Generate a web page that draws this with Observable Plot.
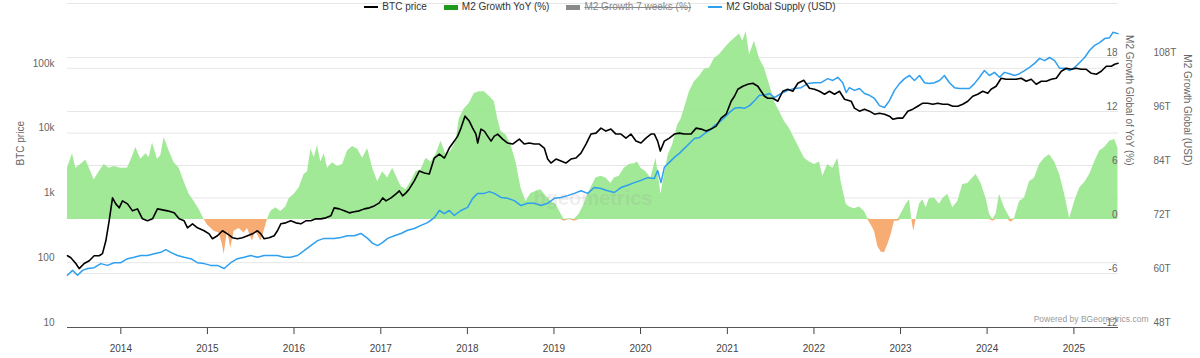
<!DOCTYPE html>
<html>
<head>
<meta charset="utf-8">
<script src="https://cdn.jsdelivr.net/npm/d3@7"></script>
<script src="https://cdn.jsdelivr.net/npm/@observablehq/plot@0.6"></script>
<style>
  html, body { margin: 0; padding: 0; background: #fff; }
  body { font-family: "Liberation Sans", Arial, sans-serif; }
  #wrap { position: relative; width: 1200px; height: 358px; overflow: hidden; }
  #wrap svg { position: absolute; left: 0; top: 0; }
  #legend { position: absolute; top: 0; left: 0; width: 1200px; height: 14px; display: flex; justify-content: center; gap: 17px; font-size: 10px; line-height: 14px; color: #333; z-index: 10; }
  #legend .it { display: flex; align-items: center; white-space: nowrap; }
  #legend .sw { display: inline-block; width: 14px; margin-right: 4px; }
  #legend .off { color: #888; text-decoration: line-through; }
</style>
</head>
<body>
<div id="wrap"><div id="legend"></div></div>
<script>
// ---------------- data (decimal year, value) ----------------
const legendNames = ["BTC price", "M2 Growth YoY (%)", "M2 Growth 7 weeks (%)", "M2 Global Supply (USD)"];
const legendColors = ["#000000", "#1f9a1f", "#8a8a8a", "#2f9ff0"];

const yearTicks = [2014, 2015, 2016, 2017, 2018, 2019, 2020, 2021, 2022, 2023, 2024, 2025];
const btcTicks = [10, 100, 1000, 10000, 100000];
const btcTickLabels = ["10", "100", "1k", "10k", "100k"];
const pctTicks = [-12, -6, 0, 6, 12, 18];
const usdTicks = [48, 60, 72, 84, 96, 108];

// M2 Growth YoY (%)
const m2Growth = [
 [2013.384,5.7],[2013.442,7.3],[2013.480,5.7],[2013.538,6.1],[2013.596,6.6],[2013.654,5.3],[2013.692,4.4],[2013.750,5.3],
 [2013.808,6.1],[2013.865,5.7],[2013.923,5.9],[2014.000,5.7],[2014.077,5.7],[2014.135,7.0],[2014.173,8.0],[2014.231,6.7],
 [2014.289,7.3],[2014.327,6.9],[2014.366,8.5],[2014.423,6.7],[2014.462,7.1],[2014.500,9.1],[2014.558,7.6],[2014.616,6.3],
 [2014.674,5.7],[2014.731,4.2],[2014.789,2.8],[2014.847,2.0],[2014.905,1.1],[2014.962,0],[2015.001,-0.6],[2015.078,-1.3],
 [2015.135,-1.5],[2015.174,-2.8],[2015.193,-3.9],[2015.232,-1.3],[2015.270,-3.2],[2015.309,-1.3],[2015.366,-1.0],[2015.424,-1.5],
 [2015.463,-1.0],[2015.520,-2.4],[2015.559,-1.3],[2015.617,-2.4],[2015.655,-1.3],[2015.694,0],[2015.732,0.9],[2015.790,1.3],
 [2015.848,0.9],[2015.905,1.4],[2015.944,2.3],[2016.002,2.8],[2016.059,3.5],[2016.117,5.0],[2016.156,5.3],[2016.194,7.8],
 [2016.233,6.9],[2016.271,8.2],[2016.309,6.4],[2016.348,7.3],[2016.386,5.7],
 [2016.444,6.3],[2016.502,5.9],[2016.560,6.1],[2016.617,7.6],[2016.675,8.1],[2016.733,7.8],[2016.791,6.8],[2016.848,7.9],
 [2016.906,5.7],[2016.964,4.2],[2017.022,5.3],[2017.079,4.6],[2017.137,5.7],[2017.176,4.9],[2017.233,3.7],[2017.291,3.3],
 [2017.349,4.2],[2017.406,5.3],[2017.464,5.5],[2017.522,6.8],[2017.580,6.4],[2017.637,7.2],[2017.695,8.7],[2017.753,7.2],
 [2017.811,7.6],[2017.868,8.7],[2017.907,11.2],[2017.965,12.3],[2018.022,12.9],[2018.080,14.0],[2018.138,14.2],[2018.196,14.2],
 [2018.253,13.7],[2018.311,13.1],[2018.350,11.2],[2018.388,9.8],[2018.446,9.4],[2018.503,8.3],[2018.561,6.4],[2018.619,3.5],
 [2018.677,2.0],[2018.734,2.9],[2018.792,3.1],[2018.850,3.3],[2018.908,2.6],[2018.965,2.0],[2019.023,1.7],[2019.081,0.6],
 [2019.119,-0.2],[2019.177,0.1],[2019.235,-0.2],[2019.293,0.6],[2019.350,1.7],
 [2019.370,2.3],[2019.427,3.5],[2019.485,4.6],[2019.543,4.8],[2019.600,4.6],[2019.658,4.0],[2019.697,4.6],[2019.754,4.8],
 [2019.812,5.7],[2019.870,6.1],[2019.928,6.2],[2019.966,6.4],[2020.005,5.7],[2020.062,5.3],[2020.120,4.6],[2020.178,6.8],
 [2020.236,2.8],[2020.274,5.0],[2020.320,7.2],[2020.370,8.3],[2020.428,10.5],[2020.466,11.1],[2020.505,12.3],[2020.563,14.2],
 [2020.620,15.3],[2020.678,15.9],[2020.736,16.7],[2020.794,16.8],[2020.851,17.9],[2020.909,18.3],[2020.967,19.0],[2021.025,19.6],
 [2021.082,20.1],[2021.140,20.6],[2021.179,19.8],[2021.217,20.9],[2021.256,18.3],[2021.313,19.8],[2021.371,17.9],[2021.429,16.8],
 [2021.487,15.0],[2021.544,13.1],[2021.602,12.0],[2021.660,10.9],[2021.718,10.1],[2021.775,9.0],[2021.833,7.9],[2021.891,6.8],
 [2021.948,6.4],[2022.006,6.1],[2022.064,6.4],[2022.103,4.8],[2022.160,6.1],[2022.218,5.7],[2022.276,6.8],[2022.314,4.2],
 [2022.372,1.7],
 [2022.410,1.4],[2022.468,1.2],[2022.526,1.4],[2022.584,0.9],[2022.622,0.1],[2022.661,-0.6],[2022.699,-1.3],[2022.738,-3.0],
 [2022.776,-3.6],[2022.815,-3.7],[2022.853,-2.8],[2022.892,-1.7],[2022.930,-0.2],[2022.969,-0.2],[2023.007,0.6],[2023.065,1.7],
 [2023.104,2.2],[2023.130,0],[2023.153,-1.3],[2023.180,0],[2023.219,1.7],[2023.257,2.2],[2023.296,1.3],[2023.334,2.3],
 [2023.392,2.4],[2023.450,1.7],[2023.488,2.3],[2023.546,2.8],[2023.604,1.3],[2023.661,2.0],[2023.719,3.9],[2023.777,4.0],
 [2023.834,4.6],[2023.873,5.0],[2023.931,4.0],[2023.989,2.3],[2024.027,0.6],[2024.066,-0.2],[2024.104,0.6],[2024.143,2.8],
 [2024.200,1.3],[2024.239,0.6],[2024.277,-0.3],[2024.316,0.1],[2024.374,2.0],[2024.431,2.4],[2024.489,4.2],[2024.547,4.6],
 [2024.605,6.1],[2024.662,6.8],[2024.720,7.2],[2024.778,6.4],[2024.836,5.0],[2024.893,2.8],[2024.951,0.1],[2025.009,2.0],
 [2025.067,3.5],[2025.124,4.1],[2025.182,5.0],[2025.240,6.4],[2025.297,7.6],[2025.355,8.0],[2025.413,8.7],[2025.471,8.9],
 [2025.509,7.9]
];

// BTC price (USD)
const btcPrice = [
 [2013.384,128],[2013.423,119],[2013.480,97],[2013.519,81],[2013.577,97],[2013.635,107],[2013.692,128],[2013.750,128],
 [2013.788,138],[2013.827,218],[2013.865,443],[2013.904,1000],[2013.942,809],[2013.981,702],[2014.019,899],[2014.077,809],
 [2014.135,631],[2014.192,677],[2014.250,475],[2014.308,443],[2014.366,475],[2014.423,677],[2014.481,653],[2014.539,631],
 [2014.616,588],[2014.674,475],[2014.731,443],[2014.770,345],[2014.828,398],[2014.885,345],[2014.962,311],[2015.020,279],
 [2015.058,234],[2015.116,260],[2015.174,311],[2015.232,279],[2015.289,243],[2015.347,234],[2015.405,243],[2015.463,260],
 [2015.520,279],[2015.578,311],[2015.617,279],[2015.655,234],[2015.713,243],[2015.771,260],[2015.809,311],[2015.848,398],
 [2015.905,412],[2015.963,443],[2016.021,412],[2016.079,398],[2016.136,443],[2016.194,443],[2016.252,475],[2016.309,475],
 [2016.367,492],[2016.425,530],
 [2016.463,702],[2016.521,677],[2016.579,631],[2016.637,588],[2016.694,610],[2016.752,631],[2016.810,677],[2016.868,702],
 [2016.925,753],[2016.983,838],[2017.022,1000],[2017.060,899],[2017.118,1000],[2017.176,1152],[2017.214,1282],[2017.252,1074],
 [2017.291,1195],[2017.329,1375],[2017.387,1828],[2017.445,2600],[2017.503,2426],[2017.560,2339],[2017.618,4125],[2017.676,4755],
 [2017.734,4125],[2017.791,5875],[2017.849,7530],[2017.888,8995],[2017.926,11940],[2017.972,18270],[2018.022,15300],[2018.061,11940],
 [2018.099,9660],[2018.119,7020],[2018.157,11530],[2018.196,10740],[2018.234,8995],[2018.273,7530],[2018.311,8995],[2018.350,9660],
 [2018.407,8090],[2018.465,7020],[2018.523,6775],[2018.600,8090],[2018.657,6775],[2018.715,7020],[2018.773,6775],[2018.831,6775],
 [2018.888,5875],[2018.927,3980],[2018.965,3455],[2019.023,3980],[2019.081,3705],[2019.138,3455],[2019.196,3980],[2019.254,4125],
 [2019.312,4920],[2019.370,6775],[2019.427,9660],
 [2019.485,10000],[2019.543,11940],[2019.600,10740],[2019.658,11530],[2019.716,9660],[2019.774,9660],[2019.831,8375],[2019.889,9660],
 [2019.947,7530],[2020.005,7020],[2020.062,8375],[2020.120,9660],[2020.159,9660],[2020.197,7530],[2020.228,5280],[2020.274,7530],
 [2020.332,8375],[2020.390,9660],[2020.447,10000],[2020.505,9660],[2020.582,9660],[2020.640,11940],[2020.698,11530],[2020.755,10740],
 [2020.813,11530],[2020.871,12820],[2020.928,17010],[2020.986,19590],[2021.044,31060],[2021.082,37070],[2021.121,47530],[2021.179,52850],
 [2021.236,56770],[2021.294,58760],[2021.352,52850],[2021.390,44260],[2021.429,37070],[2021.467,34520],[2021.525,34520],[2021.583,31060],
 [2021.640,44260],[2021.698,47530],[2021.756,44260],[2021.814,58760],[2021.883,65310],[2021.948,49210],[2022.006,47530],[2022.064,44260],
 [2022.122,39810],[2022.179,44260],[2022.237,39810],[2022.295,44260],[2022.353,33340],[2022.430,31060],
 [2022.468,24260],[2022.526,21790],[2022.584,23390],[2022.641,21790],[2022.699,19590],[2022.757,20310],[2022.815,19590],[2022.872,18270],
 [2022.911,16410],[2022.969,17010],[2023.026,17010],[2023.084,21790],[2023.142,23390],[2023.199,26010],[2023.257,28950],[2023.315,28950],
 [2023.373,27920],[2023.430,28950],[2023.488,27920],[2023.546,27920],[2023.604,26010],[2023.661,26010],[2023.719,27920],[2023.777,31060],
 [2023.834,37070],[2023.892,39810],[2023.950,44260],[2024.008,41250],[2024.046,47530],[2024.104,52850],[2024.162,70170],[2024.220,67710],
 [2024.277,67710],[2024.335,67710],[2024.393,70170],[2024.451,63100],[2024.508,67710],[2024.566,56770],[2024.624,63100],[2024.682,63100],
 [2024.739,67710],[2024.797,70170],[2024.855,89950],[2024.912,100000],[2024.970,96600],[2025.028,100000],[2025.085,96600],[2025.143,96600],
 [2025.201,83750],[2025.259,80910],[2025.316,89950],[2025.374,107400],[2025.432,107400],[2025.471,115300],[2025.509,119400]
];

// M2 Global Supply (trillion USD)
const m2Supply = [
 [2013.384,59.6],[2013.442,60.7],[2013.500,59.6],[2013.558,60.7],[2013.616,61.1],[2013.692,61.3],[2013.769,62.2],[2013.846,61.8],
 [2013.923,62.4],[2014.000,62.4],[2014.077,63.3],[2014.154,63.6],[2014.231,64.0],[2014.308,64.0],[2014.385,64.4],[2014.462,64.7],
 [2014.520,65.3],[2014.577,64.7],[2014.654,64.0],[2014.731,63.6],[2014.808,63.3],[2014.885,62.4],[2014.962,62.2],[2015.039,61.8],
 [2015.116,61.8],[2015.193,61.1],[2015.270,62.4],[2015.347,63.3],[2015.424,63.6],[2015.501,64.0],[2015.578,63.6],[2015.655,64.0],
 [2015.732,64.0],[2015.809,64.0],[2015.886,63.6],[2015.963,63.6],[2016.040,64.0],[2016.117,65.1],[2016.194,66.2],[2016.271,67.3],
 [2016.348,67.8],
 [2016.463,67.8],[2016.540,68.0],[2016.617,68.4],[2016.694,68.4],[2016.771,68.9],[2016.848,67.8],[2016.906,66.7],[2016.964,66.2],
 [2017.022,66.9],[2017.079,67.8],[2017.156,68.4],[2017.233,68.9],[2017.310,69.6],[2017.387,70.0],[2017.464,70.7],[2017.541,71.3],
 [2017.618,72.4],[2017.676,74.0],[2017.734,73.3],[2017.791,74.0],[2017.849,72.9],[2017.926,74.0],[2018.003,74.7],[2018.061,76.7],
 [2018.119,77.8],[2018.196,77.8],[2018.253,78.2],[2018.311,77.8],[2018.388,76.9],[2018.465,76.7],[2018.542,76.2],[2018.619,75.1],
 [2018.696,75.6],[2018.773,75.6],[2018.850,75.1],[2018.927,75.6],[2019.004,76.7],[2019.081,76.9],[2019.158,77.3],[2019.235,77.8],
 [2019.312,78.4],[2019.389,77.8],
 [2019.466,79.1],[2019.543,78.9],[2019.620,78.4],[2019.697,78.0],[2019.774,79.1],[2019.851,79.6],[2019.928,80.2],[2020.005,80.7],
 [2020.082,81.3],[2020.159,81.1],[2020.197,82.9],[2020.236,80.2],[2020.274,83.6],[2020.332,84.7],[2020.390,85.8],[2020.447,86.7],
 [2020.505,87.8],[2020.563,88.9],[2020.620,90.0],[2020.678,90.2],[2020.736,91.1],[2020.794,91.8],[2020.851,92.9],[2020.909,93.6],
 [2020.967,94.7],[2021.025,95.8],[2021.082,96.7],[2021.140,96.9],[2021.198,96.7],[2021.256,97.3],[2021.313,98.4],[2021.371,99.6],
 [2021.429,99.6],[2021.487,100.0],[2021.544,99.1],[2021.621,100.0],[2021.698,100.7],[2021.775,101.1],[2021.852,101.3],[2021.929,102.2],
 [2022.006,102.4],[2022.083,102.4],[2022.160,103.3],[2022.218,102.9],[2022.276,103.6],[2022.333,102.4],
 [2022.372,100.2],[2022.410,101.3],[2022.468,100.7],[2022.526,101.1],[2022.584,100.0],[2022.641,99.6],[2022.699,98.9],[2022.757,97.3],
 [2022.815,96.9],[2022.872,98.4],[2022.930,100.7],[2022.988,102.2],[2023.046,103.3],[2023.104,104.0],[2023.161,102.9],[2023.219,104.0],
 [2023.277,102.4],[2023.334,102.2],[2023.392,102.4],[2023.450,102.9],[2023.507,104.0],[2023.565,102.4],[2023.623,101.3],[2023.681,101.1],
 [2023.738,101.1],[2023.796,101.1],[2023.854,102.2],[2023.912,103.6],[2023.969,105.1],[2024.027,104.0],[2024.085,104.7],[2024.143,103.6],
 [2024.200,104.7],[2024.258,104.4],[2024.316,104.0],[2024.374,104.4],[2024.431,105.1],[2024.489,105.8],[2024.547,106.7],[2024.605,107.8],
 [2024.662,107.3],[2024.720,108.0],[2024.778,107.3],[2024.836,105.6],[2024.893,105.6],[2024.951,105.1],[2025.009,105.8],[2025.067,106.9],
 [2025.124,108.0],[2025.182,109.6],[2025.240,110.7],[2025.297,111.3],[2025.355,112.2],[2025.413,112.4],[2025.451,113.6],[2025.509,113.3]
];

// ---------------- helpers ----------------
function toDate(t) {
  const y = Math.floor(t);
  const a = Date.UTC(y, 0, 1), b = Date.UTC(y + 1, 0, 1);
  return new Date(a + (t - y) * (b - a));
}
const rows = s => s.map(([t, v]) => ({date: toDate(t), v}));
const growth = rows(m2Growth);
const btc = rows(btcPrice);
const supply = rows(m2Supply);

const FONT = '"Liberation Sans", Arial, sans-serif';
const xScale = {type: "utc", domain: [toDate(2013.384), toDate(2025.515)]};
const base = {
  width: 1200, height: 358,
  marginLeft: 67, marginRight: 82, marginTop: 3, marginBottom: 31,
  style: {background: "transparent", overflow: "visible", fontFamily: FONT, fontSize: "10px"}
};
const GRID = "#e6e6e6";
const LABEL = "#666";

// Layer 1: BTC scale grid + left axis + x axis
const p1 = Plot.plot({
  ...base,
  x: {...xScale, axis: null},
  y: {type: "log", domain: [10, 1e6], axis: null},
  marks: [
    Plot.ruleY([100, 1000, 10000, 100000, 1e6], {stroke: GRID, strokeWidth: 1}),
    Plot.axisY(btcTicks, {anchor: "left", tickSize: 0, tickPadding: 13, dy: -5, color: LABEL,
      tickFormat: d => btcTickLabels[btcTicks.indexOf(d)], label: null}),
    Plot.text(["BTC price"], {text: d => d, frameAnchor: "left", dx: -47, rotate: -90, fill: LABEL, fontSize: 10}),
    Plot.axisX(yearTicks.map(y => new Date(Date.UTC(y, 0, 1))), {anchor: "bottom", tickSize: 7, tickPadding: 10,
      tickFormat: d3.utcFormat("%Y"), color: "#444", label: null}),
    Plot.ruleY([10], {stroke: "#555", strokeWidth: 1})
  ]
});

// Layer 2: M2 growth % area (right inner axis)
const p2 = Plot.plot({
  ...base,
  x: {...xScale, axis: null},
  y: {domain: [-12, 24], axis: null},
  marks: [
    Plot.ruleY([-6, 6, 12, 18], {stroke: GRID, strokeWidth: 1}),
    Plot.areaY(growth, {x: "date", y1: 0, y2: d => Math.max(0, d.v), fill: "#97e68c", fillOpacity: 0.9}),
    Plot.areaY(growth, {x: "date", y1: 0, y2: d => Math.min(0, d.v), fill: "#f6a86c", fillOpacity: 0.95}),
    Plot.text(pctTicks, {y: d => d, text: d => String(d), frameAnchor: "right", textAnchor: "end", dx: -1, dy: -5, fill: LABEL, fontSize: 10}),
    Plot.text(["M2 Growth Global of YoY (%)"], {text: d => d, frameAnchor: "right", dx: 11, rotate: 90, fill: LABEL, fontSize: 10}),
    Plot.text(["Powered by BGeometrics.com"], {text: d => d, frameAnchor: "bottom-right", dx: 30, dy: -6, textAnchor: "end", fill: "#999", fontSize: 8.5})
  ]
});

// Layer 3: M2 supply (USD)
const p3 = Plot.plot({
  ...base,
  x: {...xScale, axis: null},
  y: {domain: [48, 120], axis: null},
  marks: [
    Plot.lineY(supply, {x: "date", y: "v", stroke: "#2f9ff0", strokeWidth: 1.5}),
    Plot.text(usdTicks, {y: d => d, text: d => `${d}T`, frameAnchor: "right", textAnchor: "start", dx: 35, dy: -5, fill: LABEL, fontSize: 10}),
    Plot.text(["M2 Growth Global (USD)"], {text: d => d, frameAnchor: "right", dx: 69, rotate: 90, fill: LABEL, fontSize: 10})
  ]
});

// Layer 4: BTC price line + faint watermark
const p4 = Plot.plot({
  ...base,
  x: {...xScale, axis: null},
  y: {type: "log", domain: [10, 1e6], axis: null},
  marks: [
    Plot.lineY(btc, {x: "date", y: "v", stroke: "#000", strokeWidth: 1.6}),
    Plot.text(["bgeometrics"], {text: d => d, frameAnchor: "middle", dx: 0, dy: 33, fontSize: 20, fontWeight: "bold", fill: "#9a9a9a", fillOpacity: 0.18})
  ]
});

const wrap = document.getElementById("wrap");
[p1, p2, p3, p4].forEach(p => wrap.appendChild(p));

// legend
const legend = document.getElementById("legend");
legendNames.forEach((name, i) => {
  const it = document.createElement("span");
  it.className = "it";
  const sw = document.createElement("span");
  sw.className = "sw";
  const isLine = i === 0 || i === 3;
  sw.style.height = isLine ? "2px" : "5px";
  sw.style.background = legendColors[i];
  const tx = document.createElement("span");
  tx.textContent = name;
  if (i === 2) tx.className = "off";
  it.appendChild(sw); it.appendChild(tx);
  legend.appendChild(it);
});
</script>
</body>
</html>
